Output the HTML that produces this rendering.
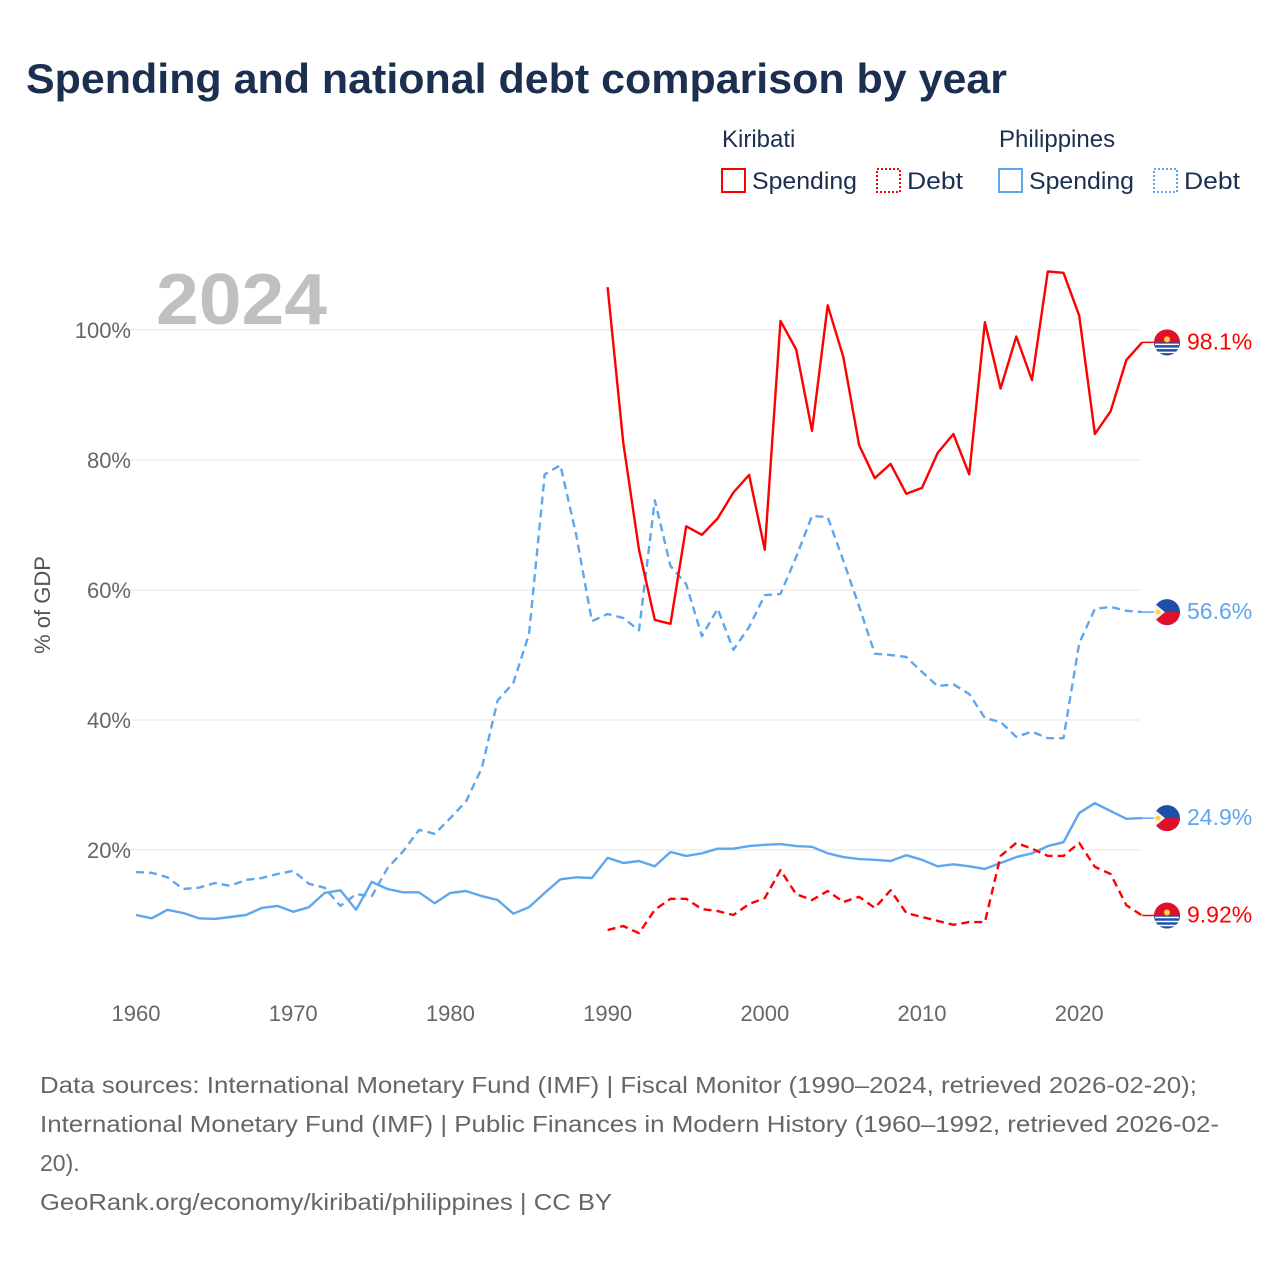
<!DOCTYPE html>
<html><head><meta charset="utf-8"><style>
body{margin:0;background:#fff;font-family:"Liberation Sans",sans-serif;}
#wrap{position:relative;width:1280px;height:1280px;overflow:hidden;}
</style></head><body>
<div id="wrap">
<svg id="chart" width="1280" height="1280" style="position:absolute;left:0;top:0">
<text x="26" y="93" font-size="42" font-weight="bold" fill="#1b2f50" textLength="981" lengthAdjust="spacingAndGlyphs">Spending and national debt comparison by year</text>
<text x="722" y="147" font-size="24" fill="#1b2f50">Kiribati</text>
<text x="999" y="147" font-size="24" fill="#1b2f50">Philippines</text>
<g><rect x="722" y="169" width="23" height="23" fill="none" stroke="#ff0000" stroke-width="2"/><text x="752" y="189" font-size="24" fill="#1b2f50" textLength="105" lengthAdjust="spacingAndGlyphs">Spending</text></g>
<g><rect x="877" y="169" width="23" height="23" fill="none" stroke="#ff0000" stroke-width="2" stroke-dasharray="2,2"/><text x="907" y="189" font-size="24" fill="#1b2f50" textLength="56" lengthAdjust="spacingAndGlyphs">Debt</text></g>
<g><rect x="999" y="169" width="23" height="23" fill="none" stroke="#5ea6ee" stroke-width="2"/><text x="1029" y="189" font-size="24" fill="#1b2f50" textLength="105" lengthAdjust="spacingAndGlyphs">Spending</text></g>
<g><rect x="1154" y="169" width="23" height="23" fill="none" stroke="#5ea6ee" stroke-width="2" stroke-dasharray="2,2"/><text x="1184" y="189" font-size="24" fill="#1b2f50" textLength="56" lengthAdjust="spacingAndGlyphs">Debt</text></g>
<text x="156" y="324" font-size="72" font-weight="bold" fill="#c0c0c0" textLength="171" lengthAdjust="spacingAndGlyphs">2024</text>
<text transform="translate(50,605) rotate(-90)" text-anchor="middle" font-size="22" fill="#555">% of GDP</text>
<g id="grid"></g><g id="series"></g><g id="ends"></g>
<text x="40" y="1093" font-size="23" fill="#666" textLength="1157" lengthAdjust="spacingAndGlyphs">Data sources: International Monetary Fund (IMF) | Fiscal Monitor (1990–2024, retrieved 2026-02-20);</text>
<text x="40" y="1132" font-size="23" fill="#666" textLength="1179" lengthAdjust="spacingAndGlyphs">International Monetary Fund (IMF) | Public Finances in Modern History (1960–1992, retrieved 2026-02-</text>
<text x="40" y="1171" font-size="23" fill="#666">20).</text>
<text x="40" y="1210" font-size="23" fill="#666" textLength="572" lengthAdjust="spacingAndGlyphs">GeoRank.org/economy/kiribati/philippines | CC BY</text>
</svg>
</div>
<script>
const yTicks=[20,40,60,80,100];
const xTicks=[1960,1970,1980,1990,2000,2010,2020];
const phDebt=[16.6,16.5,15.8,14,14.2,14.9,14.5,15.4,15.7,16.3,16.8,14.8,14.2,11.4,13.2,12.9,17.2,19.8,23.1,22.5,24.9,27.5,32.6,43,45.7,53.2,77.8,79.2,68.5,55.2,56.3,55.7,53.8,73.8,63.7,60.9,52.9,57.1,50.8,54.3,59.2,59.4,65.1,71.4,71.2,64.5,57.5,50.2,50,49.7,47.4,45.2,45.5,44,40.3,39.7,37.4,38.2,37.2,37.2,51.8,57.1,57.4,56.8,56.6];
const phSpend=[10,9.5,10.8,10.3,9.5,9.4,9.7,10,11.1,11.4,10.5,11.2,13.4,13.8,10.8,15.1,14,13.5,13.5,11.8,13.4,13.7,12.9,12.3,10.2,11.2,13.4,15.5,15.8,15.7,18.8,18,18.3,17.5,19.7,19.1,19.5,20.2,20.2,20.6,20.8,20.9,20.6,20.5,19.5,18.9,18.6,18.5,18.3,19.2,18.5,17.5,17.8,17.5,17.1,18,18.9,19.5,20.6,21.2,25.7,27.2,26,24.8,24.9];
const kiSpend=[106.6,82.6,66.2,55.4,54.8,69.8,68.5,71,75,77.7,66.2,101.4,97,84.5,103.8,95.8,82.3,77.2,79.4,74.8,75.7,81.1,84,77.8,101.2,91,99,92.3,109,108.8,102.2,84,87.5,95.4,98.1];
const kiDebt=[7.7,8.3,7.2,10.8,12.5,12.5,10.9,10.6,10,11.7,12.6,16.9,13.2,12.3,13.7,12,12.8,11.1,13.8,10.3,9.7,9.1,8.5,8.9,8.9,19.1,21.1,20.2,19.1,19.1,21.1,17.4,16.3,11.5,9.92];
const endLabels=["98.1%","56.6%","24.9%","9.92%"];
const NS="http://www.w3.org/2000/svg";
const X=y=>136+(y-1960)*15.72;
const Y=v=>980-v*6.5;
function mk(t,a,p){const e=document.createElementNS(NS,t);for(const k in a)e.setAttribute(k,a[k]);p.appendChild(e);return e;}
const grid=document.getElementById('grid');
yTicks.forEach(v=>{
  const l=mk('line',{x1:130,x2:1140,y1:Y(v),y2:Y(v),stroke:'#e6e6e6','stroke-width':1},grid);
  
  
  const t=mk('text',{x:131,y:Y(v)+8,'text-anchor':'end','font-size':22,fill:'#666'},grid);
  t.textContent=v+'%';
  
  
});
xTicks.forEach(yr=>{
  const t=mk('text',{x:X(yr),y:1021,'text-anchor':'middle','font-size':22,fill:'#666'},grid);
  t.textContent=yr;
  
  
});
const ser=document.getElementById('series');
function line(vals,start,color,dash,name){
  const d=vals.map((v,i)=>(i?'L':'M')+X(start+i).toFixed(1)+','+Y(v).toFixed(1)).join(' ');
  const p=mk('path',{d:d,fill:'none',stroke:color,'stroke-width':2.4,'stroke-linejoin':'round'},ser);
  if(dash)p.setAttribute('stroke-dasharray','8,5');
  
  
}
line(phDebt,1960,'#5ea6ee',true,'philippines-debt-line');
line(phSpend,1960,'#5ea6ee',false,'philippines-spending-line');
line(kiDebt,1990,'#ff0000',true,'kiribati-debt-line');
line(kiSpend,1990,'#ff0000',false,'kiribati-spending-line');
const ends=document.getElementById('ends');
const endVals=[kiSpend[kiSpend.length-1],phDebt[phDebt.length-1],phSpend[phSpend.length-1],kiDebt[kiDebt.length-1]];
const endFlags=['ki','ph','ph','ki'];
const endColors=['#ff0000','#5ea6ee','#5ea6ee','#ff0000'];
endVals.forEach((v,i)=>{
  const cy=Y(v),cx=1167;
  const g=mk('g',{},ends);
  
  
  mk('line',{x1:X(2024),x2:cx-12,y1:Y(v),y2:Y(v),stroke:endColors[i],'stroke-width':1.5},g);
  if(endFlags[i]==='ki'){
    mk('circle',{cx:cx,cy:cy,r:13,fill:'#e0102a'},g);
    mk('path',{d:`M${cx-13},${cy} A13,13 0 0 0 ${cx+13},${cy} Z`,fill:'#1d4fa8'},g);
    [2,6,10].forEach(o=>mk('line',{x1:cx-12,x2:cx+12,y1:cy+o,y2:cy+o,stroke:'#fff','stroke-width':1.5},g));
    mk('circle',{cx:cx,cy:cy-3,r:3,fill:'#ffd23a'},g);
  }else{
    mk('circle',{cx:cx,cy:cy,r:13,fill:'#1d4fa8'},g);
    mk('path',{d:`M${cx-13},${cy} A13,13 0 0 0 ${cx+13},${cy} Z`,fill:'#e0102a'},g);
    mk('path',{d:`M${cx-13},${cy-9} L${cx-2},${cy} L${cx-13},${cy+9} Z`,fill:'#f4f4f4'},g);
    mk('circle',{cx:cx-9,cy:cy,r:2.5,fill:'#ffd23a'},g);
  }
  const t=mk('text',{x:1187,y:Y(v)+7,'font-size':23,fill:endColors[i]},g);
  t.textContent=endLabels[i];
});
</script>
</body></html>
